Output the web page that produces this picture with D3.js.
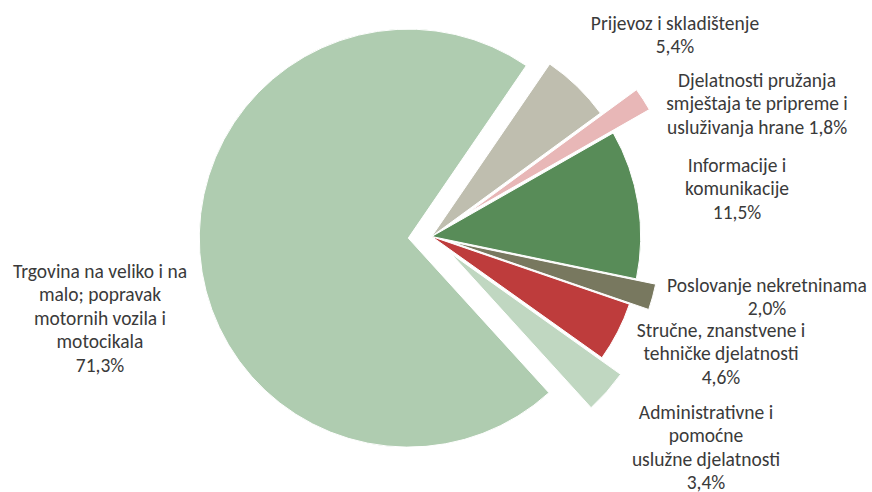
<!DOCTYPE html>
<html>
<head>
<meta charset="utf-8">
<script src="https://cdn.jsdelivr.net/npm/d3@7"></script>
<style>
  body { margin: 0; background: #fff; }
  svg text { font-family: Calibri, Carlito, Lato, "Open Sans", sans-serif; fill: #3a3a3a; }
</style>
</head>
<body>
<svg class="pie-chart"></svg>
<script>
/****** Data *******/
const categories = [
    "Trgovina na veliko i na malo; popravak motornih vozila i motocikala",
    "Prijevoz i skladištenje",
    "Djelatnosti pružanja smještaja te pripreme i usluživanja hrane",
    "Informacije i komunikacije",
    "Poslovanje nekretninama",
    "Stručne, znanstvene i tehničke djelatnosti",
    "Administrativne i pomoćne uslužne djelatnosti"
];
const shares = [71.3, 5.4, 1.8, 11.5, 2.0, 4.6, 3.4];
// label text as broken into lines in the picture
const labelLines = [
    ["Trgovina na veliko i na", "malo; popravak", "motornih vozila i", "motocikala", "71,3%"],
    ["Prijevoz i skladištenje", "5,4%"],
    ["Djelatnosti pružanja", "smještaja te pripreme i", "usluživanja hrane 1,8%"],
    ["Informacije i", "komunikacije", "11,5%"],
    ["Poslovanje nekretninama", "2,0%"],
    ["Stručne, znanstvene i", "tehničke djelatnosti", "4,6%"],
    ["Administrativne i", "pomoćne", "uslužne djelatnosti", "3,4%"]
];

/** Layout **/
const colors = ["#afccb0", "#bfbeaf", "#e8b7b7", "#588c58", "#78785f", "#be3c3c", "#c0d7c1"];
const explode = [23.5, 0, 43, 0, 20, 0, 25];
// label box: centre x, first baseline y
const labelPos = [[100, 278], [675, 30], [757, 87], [737, 172], [767, 292], [721, 337], [706, 419]];
const lineHeight = 23.4;

/** Draw pie **/
function drawPie() {
    var svgWidth = 872, svgHeight = 492;
    var cx = 431.7, cy = 236.5, radius = 209;

    var svg = d3.select('.pie-chart')
        .attr("width", svgWidth)
        .attr("height", svgHeight);

    var startAngle = -222.3 * Math.PI / 180;
    var pie = d3.pie()
        .sort(null)
        .value(function (d) { return d; })
        .startAngle(startAngle)
        .endAngle(startAngle + 2 * Math.PI);

    var arc = d3.arc()
        .innerRadius(0)
        .outerRadius(radius);

    var g = svg.append("g")
        .attr("transform", "translate(" + cx + "," + cy + ")");

    g.selectAll(".slice")
        .data(pie(shares))
        .enter().append("path")
        .attr("class", "slice")
        .attr("fill", function (d, i) { return colors[i]; })
        .attr("stroke", "#fff")
        .attr("stroke-width", 1)
        .attr("stroke-linejoin", "round")
        .attr("transform", function (d, i) {
            var mid = (d.startAngle + d.endAngle) / 2;
            return "translate(" + (Math.sin(mid) * explode[i]) + "," + (-Math.cos(mid) * explode[i]) + ")";
        })
        .attr("d", arc)
        .append("title")
        .text(function (d, i) { return categories[i]; });

    var labels = svg.selectAll(".label")
        .data(labelLines)
        .enter().append("text")
        .attr("class", "label")
        .attr("text-anchor", "middle")
        .attr("font-size", "19.5px")
        .attr("x", function (d, i) { return labelPos[i][0]; })
        .attr("y", function (d, i) { return labelPos[i][1]; });

    labels.selectAll("tspan")
        .data(function (d, i) { return d.map(function (t) { return {t: t, i: i}; }); })
        .enter().append("tspan")
        .attr("x", function (d) { return labelPos[d.i][0]; })
        .attr("dy", function (d, j) { return j === 0 ? 0 : lineHeight; })
        .text(function (d) { return d.t; });
}

drawPie();
</script>
</body>
</html>
